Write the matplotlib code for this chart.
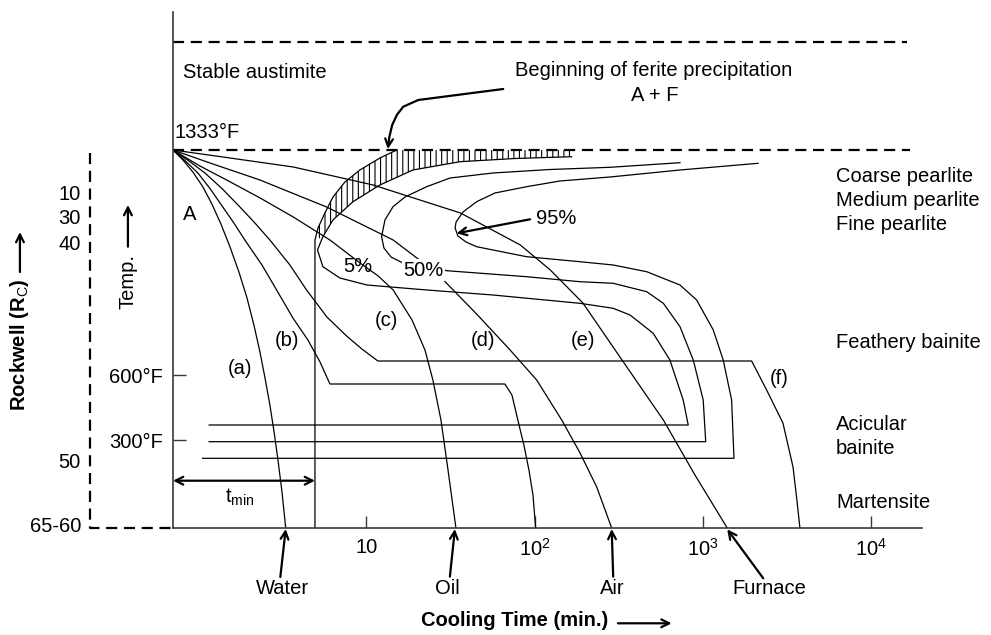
import matplotlib
matplotlib.use("Agg")
import matplotlib.pyplot as plt
from matplotlib.patches import Polygon, FancyArrowPatch
from matplotlib.path import Path

plt.rcParams['font.family'] = ['Liberation Sans', 'DejaVu Sans']
plt.rcParams['mathtext.fontset'] = 'custom'
plt.rcParams['mathtext.rm'] = 'Liberation Sans'
plt.rcParams['mathtext.it'] = 'Liberation Sans:italic'
plt.rcParams['mathtext.bf'] = 'Liberation Sans:bold'
plt.rcParams['hatch.linewidth'] = 0.8

# ---------------- data -----------------
# x = log10(cooling time, min); y = temperature level on the schematic scale (0 = baseline)
X_TICKS = [1, 2, 3, 4]
X_TICK_LABELS = ['10', '10$^{2}$', '10$^{3}$', '10$^{4}$']
TEMP_TICK_LEVELS = [152.7, 88]
TEMP_TICK_LABELS = ['600°F', '300°F']
A1_LEVEL = 378          # 1333 °F
UPPER_LEVEL = 486       # stable austenite upper dashed line

ROCKWELL_LEVELS = [333, 309, 284, 66, 1]
ROCKWELL_LABELS = ['10', '30', '40', '50', '65-60']

# cooling curves from 1333 °F
WATER_X = [-0.150, -0.091, -0.032, 0.028, 0.081, 0.135, 0.189, 0.242, 0.290, 0.331,
           0.367, 0.397, 0.426, 0.451, 0.474, 0.498, 0.520]
WATER_Y = [378, 368, 356, 341, 324, 304, 281, 256, 230, 203,
           176, 150, 123, 96, 68, 36, 0]

CURVE_B_X = [-0.150, -0.076, -0.002, 0.072, 0.146, 0.212, 0.277, 0.379, 0.466, 0.563, 0.652, 0.724, 0.783,
             1.823, 1.865, 1.900, 1.936, 1.966, 1.990, 2.006]
CURVE_B_Y = [378, 367, 355, 339, 321, 305, 288, 263, 238, 210, 188, 166, 144,
             144, 133, 108, 83, 58, 33, 0]

CURVE_C_X = [-0.150, -0.055, 0.040, 0.144, 0.248, 0.337, 0.426, 0.545, 0.644, 0.765, 0.882, 0.973, 1.068,
             3.290, 3.379, 3.476, 3.536, 3.559, 3.577]
CURVE_C_Y = [378, 367, 355, 339, 321, 305, 288, 263, 238, 211, 192, 179, 167,
             167, 138, 105, 61, 28, 0]

OIL_X = [-0.150, 0.010, 0.169, 0.368, 0.565, 0.783, 0.962, 1.070, 1.159, 1.271, 1.348, 1.395, 1.443, 1.485, 1.532]
OIL_Y = [378, 362, 348, 330, 311, 288, 265, 252, 238, 208, 178, 148, 108, 58, 0]

AIR_X = [-0.150, 0.070, 0.367, 0.763, 1.159, 1.417, 1.655, 1.854, 2.012, 2.161, 2.270, 2.369, 2.458]
AIR_Y = [378, 365, 348, 321, 288, 255, 214, 178, 148, 108, 75, 41, 0]

FURNACE_X = [-0.150, 0.189, 0.565, 1.040, 1.559, 1.915, 2.093, 2.287, 2.507, 2.765, 2.953, 3.145]
FURNACE_Y = [378, 370, 361, 343, 315, 283, 258, 225, 171, 108, 53, 0]

# transformation curves
FERRITE_X = [1.180, 1.080, 0.961, 0.872, 0.801, 0.753, 0.712, 0.694, 0.694]
FERRITE_Y = [378, 370, 358, 346, 331, 315, 300, 288, 0]

P5_X = [2.220, 1.883, 1.556, 1.276, 1.080, 0.920, 0.801, 0.741, 0.709, 0.741, 0.842, 1.003,
        1.360, 1.752, 2.269, 2.467, 2.567, 2.705, 2.804, 2.883, 2.913, 0.065]
P5_Y = [371.3, 369.5, 366.3, 358, 343, 326.3, 308, 291.3, 278, 261.3, 250, 243,
        238, 233, 224.7, 219.7, 213, 194.7, 168, 128, 103, 103]
P5_NOSE = 8

P50_X = [2.864, 2.448, 2.091, 1.752, 1.497, 1.358, 1.229, 1.158, 1.110, 1.090, 1.104, 1.146,
         1.217, 1.477, 1.952, 2.269, 2.467, 2.666, 2.765, 2.864, 2.943, 3.002, 3.017, 0.065]
P50_Y = [365.3, 360.7, 358.5, 355, 350, 341.3, 331, 321.3, 308, 291.3, 280, 271,
         265, 257.3, 251.3, 246.3, 244.7, 236.3, 224.7, 201.3, 168, 128, 86.3, 86.3]

P95_X = [3.328, 2.864, 2.448, 2.150, 1.952, 1.764, 1.655, 1.574, 1.533, 1.527, 1.544, 1.592,
         1.655, 1.952, 2.269, 2.467, 2.666, 2.864, 2.963, 3.062, 3.121, 3.171, 3.185, 0.026]
P95_Y = [364.7, 358, 351, 347, 341.3, 335, 326.3, 316, 306, 300, 292, 286,
         281.3, 271.3, 266.3, 263, 256.3, 243, 228, 198, 168, 128, 69.7, 69.7]

# --------------- figure -----------------
fig = plt.figure(figsize=(9.91, 6.35), dpi=100)
ax = fig.add_axes([173 / 991, 107 / 635, 748.7 / 991, 516 / 635])
ax.set_xlim(-0.150, 4.301)
ax.set_ylim(0, 516)
ax.patch.set_alpha(0)
for s in ['top', 'right']:
    ax.spines[s].set_visible(False)
for s in ['left', 'bottom']:
    ax.spines[s].set_color('#3a3a3a')
    ax.spines[s].set_linewidth(1.2)

FS = 14.5
ax.set_xticks(X_TICKS)
ax.set_xticklabels(X_TICK_LABELS)
ax.set_yticks(TEMP_TICK_LEVELS)
ax.set_yticklabels(TEMP_TICK_LABELS)
ax.tick_params(axis='x', direction='in', length=8.6, width=1, color='#3a3a3a',
               labelsize=FS, pad=7)
ax.tick_params(axis='y', direction='in', length=9.4, width=1, color='#3a3a3a',
               labelsize=FS, pad=7)

lw = 0.9
dash = dict(color='black', lw=1.6, linestyle=(0, (5, 3)), clip_on=False)

# dashed reference lines
ax.plot([-0.150, 4.211], [UPPER_LEVEL, UPPER_LEVEL], **dash)
ax.plot([-0.150, 4.231], [A1_LEVEL, A1_LEVEL], **dash)
ax.plot([-0.644, -0.644, -0.150], [375, 0, 0], **dash)

# hatched ferrite-start band
outer = list(zip(FERRITE_X[:8], FERRITE_Y[:8]))
inner = list(zip(P5_X[:P5_NOSE], P5_Y[:P5_NOSE]))[::-1]
band = Polygon(outer + inner + [(P5_X[0], A1_LEVEL)], closed=True, fill=False,
               hatch='|||', edgecolor='black', lw=0)
ax.add_patch(band)

for xs, ys in [(WATER_X, WATER_Y), (CURVE_B_X, CURVE_B_Y), (CURVE_C_X, CURVE_C_Y),
               (OIL_X, OIL_Y), (AIR_X, AIR_Y), (FURNACE_X, FURNACE_Y),
               (FERRITE_X, FERRITE_Y), (P5_X, P5_Y), (P50_X, P50_Y), (P95_X, P95_Y)]:
    ax.plot(xs, ys, color='black', lw=lw, solid_joinstyle='round')


def arrow(tail, tip, style='->', lw_=1.6, ms=14):
    ax.annotate('', xy=tip, xytext=tail, annotation_clip=False,
                arrowprops=dict(arrowstyle=style, lw=lw_, color='black',
                                mutation_scale=ms, shrinkA=0, shrinkB=0))


# curved arrow to ferrite start
verts = [(1.813, 439), (1.308, 428), (1.219, 421.3), (1.182, 413.4), (1.153, 403),
         (1.136, 390.9), (1.127, 379)]
fa = FancyArrowPatch(path=Path(verts), arrowstyle='->', mutation_scale=14,
                     lw=1.6, color='black', shrinkA=0, shrinkB=0)
ax.add_patch(fa)

# medium arrows
arrow((0.488, -49), (0.520, -1))
arrow((1.496, -48.7), (1.526, -1))
arrow((2.467, -48.7), (2.458, -1))
arrow((3.359, -50.3), (3.145, -1.3))
arrow((1.973, 308.7), (1.536, 294.7))
arrow((-0.150, 47.3), (0.694, 47.3), style='<->')

# texts
def t(x, y, s, ha='center', va='center', **kw):
    ax.text(x, y, s, ha=ha, va=va, fontsize=kw.pop('fontsize', FS), clip_on=False, **kw)

t(-0.091, 456, 'Stable austimite', ha='left')
t(-0.139, 395, '1333°F', ha='left')
t(-0.091, 313, 'A', ha='left')
t(2.710, 457, 'Beginning of ferite precipitation')
t(2.716, 432.3, 'A + F')
for y, s in [(352, 'Coarse pearlite'), (328, 'Medium pearlite'), (304, 'Fine pearlite'),
             (185, 'Feathery bainite'), (103, 'Acicular'), (80, 'bainite'), (25, 'Martensite')]:
    t(3.791, y, s, ha='left')
for x, y, s in [(0.249, 160, '(a)'), (0.526, 188, '(b)'), (1.120, 208, '(c)'),
                (1.694, 187.3, '(d)'), (2.285, 187.3, '(e)'), (3.452, 150, '(f)')]:
    t(x, y, s)
t(0.948, 261.3, '5%')
t(1.338, 258, '50%', bbox=dict(facecolor='white', edgecolor='none', pad=1))
t(2.131, 309.7, '95%')
t(0.249, 31, r'$\mathrm{t_{min}}$')
for x, s in [(0.501, 'Water'), (1.479, 'Oil'), (2.460, 'Air'), (3.396, 'Furnace')]:
    t(x, -61, s)
for y, s in zip(ROCKWELL_LEVELS, ROCKWELL_LABELS):
    t(-0.697, y, s, ha='right')

t(1.883, -92, 'Cooling Time (min.)', fontweight='bold')
arrow((2.495, -95.3), (2.814, -95.3))
t(-0.418, 246.3, 'Temp.', rotation=90)
arrow((-0.418, 281.3), (-0.418, 323))
t(-1.060, 183, 'Rockwell (R$_{\\mathrm{C}}$)', rotation=90, fontweight='bold')
arrow((-1.060, 256), (-1.060, 296))

fig.savefig('out.png', dpi=100)
